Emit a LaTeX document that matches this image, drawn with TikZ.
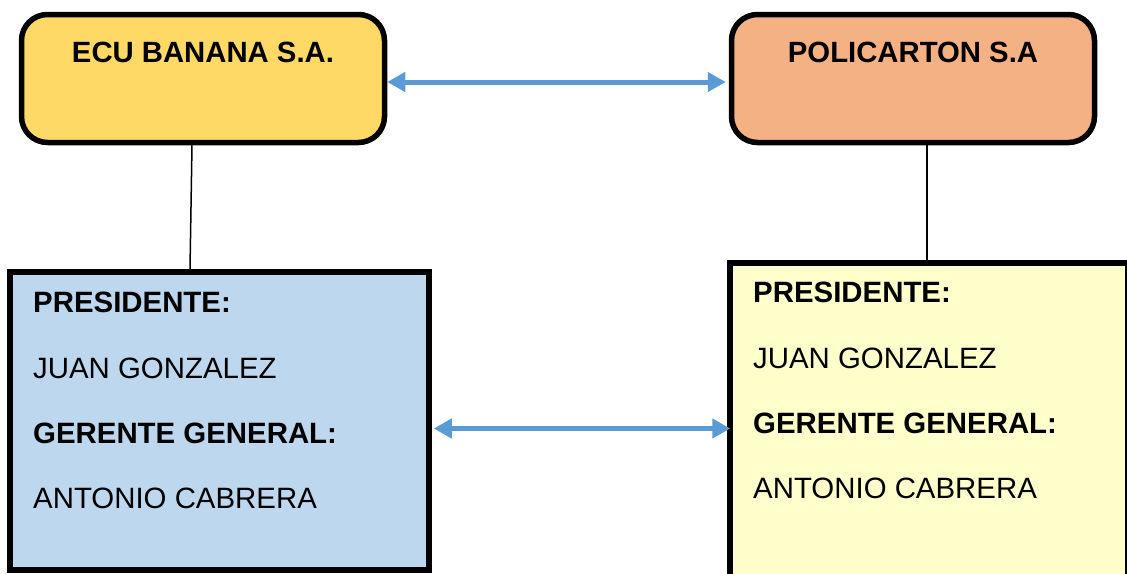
\documentclass[tikz,border=0pt]{standalone}
\usepackage{fontspec}
\setmainfont{Liberation Sans}
\usetikzlibrary{arrows.meta}
\definecolor{bananagold}{HTML}{FFD966}
\definecolor{cartonpeach}{HTML}{F4B183}
\definecolor{staffblue}{HTML}{BDD7EE}
\definecolor{staffcream}{HTML}{FFFFCC}
\definecolor{linkblue}{HTML}{5B9BD5}

\begin{document}
\begin{tikzpicture}[x=1pt,y=-1pt,
        firmbox/.style={draw,line width=5.5pt,rounded corners=26pt,inner sep=0pt,
            minimum width=363pt,minimum height=128pt,
            text height=47.5pt,text depth=80.5pt,
            font=\fontsize{29.3}{35}\selectfont\bfseries},
        staffbox/.style={draw,line width=5.5pt,inner sep=0pt},
        staffline/.style={anchor=base west,inner sep=0pt,
            font=\fontsize{29.4}{35}\selectfont},
        twoway/.style={draw=linkblue,line width=5pt,
            {Triangle[length=18pt,width=19pt]}-{Triangle[length=18pt,width=19pt]}}
    ]
        \useasboundingbox (0,0) rectangle (1127,573);

        % companies
        \node[firmbox,fill=bananagold] (ecubox) at (203,78.5) {ECU BANANA S.A.};
        \node[firmbox,fill=cartonpeach] (polibox) at (913,78.5) {POLICARTON S.A};

        % staff boxes
        \node[staffbox,fill=staffblue,minimum width=419pt,minimum height=298pt]
            (ecustaff) at (219.5,421) {};
        \node[staffbox,fill=staffcream,minimum width=398pt,minimum height=360pt]
            (polistaff) at (929,443) {};

        \foreach \n/\x/\y/\t in{
        ecu1/33/312/{\bfseries PRESIDENTE:},
        ecu2/33/378/{JUAN GONZALEZ},
        ecu3/33/443/{\bfseries GERENTE GENERAL:},
        ecu4/33/508/{ANTONIO CABRERA},
        poli1/753/302/{\bfseries PRESIDENTE:},
        poli2/753/368/{JUAN GONZALEZ},
        poli3/753/433/{\bfseries GERENTE GENERAL:},
        poli4/753/498/{ANTONIO CABRERA}
        }
        {
            \node[staffline] (\n) at (\x,\y) {\t};
        }

        \draw[line width=1.5pt] ([xshift=-11pt]ecubox.south) -- ([xshift=-29.5pt]ecustaff.north);
        \draw[line width=1.5pt] ([xshift=14pt]polibox.south) -- ([xshift=-2pt]polistaff.north);

        \coordinate (lowlink) at (0,428.5);
        \draw[twoway,shorten >=3pt] ([yshift=-3.5pt]ecubox.east) -- ([yshift=-3.5pt]polibox.west);
        \draw[twoway,shorten <=2pt,shorten >=-3pt] (ecustaff.east |- lowlink) -- (polistaff.west |- lowlink);
    \end{tikzpicture}
\end{document}
